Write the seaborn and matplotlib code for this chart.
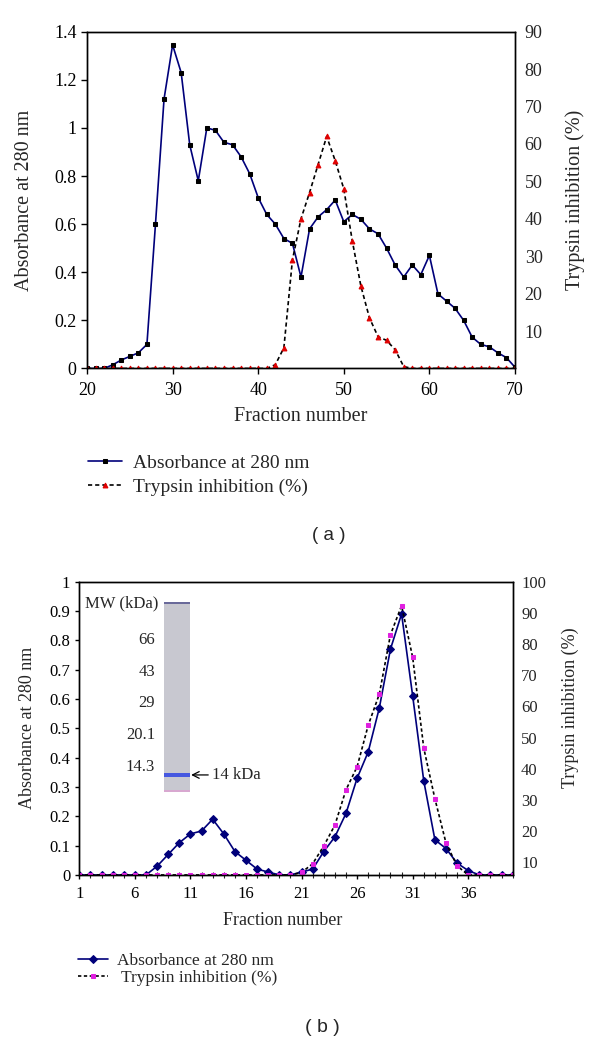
import matplotlib
matplotlib.use("Agg")
import matplotlib.pyplot as plt
from matplotlib.patches import Rectangle
import seaborn as sns

# panel (a): fractions 20..70
frac_a = list(range(20, 71))
abs_a = [0, 0, 0, 0.015, 0.035, 0.05, 0.065, 0.10, 0.60, 1.12,
         1.345, 1.23, 0.93, 0.78, 1.00, 0.99, 0.94, 0.93, 0.88, 0.81,
         0.71, 0.64, 0.60, 0.54, 0.52, 0.38, 0.58, 0.63, 0.66, 0.70,
         0.61, 0.64, 0.62, 0.58, 0.56, 0.50, 0.43, 0.38, 0.43, 0.39,
         0.47, 0.31, 0.28, 0.25, 0.20, 0.13, 0.10, 0.09, 0.065, 0.045,
         0.005]
tryp_a = [0, 0, 0, 0, 0, 0, 0, 0, 0, 0,
          0, 0, 0, 0, 0, 0, 0, 0, 0, 0,
          0, 0, 1, 5.5, 29, 40, 47, 54.5, 62, 55.5,
          48, 34, 22, 13.5, 8.5, 7.5, 5, 0.5, 0, 0,
          0, 0, 0, 0, 0, 0, 0, 0, 0, 0,
          0]

# panel (b): fractions 1..40
frac_b = list(range(1, 41))
abs_b = [0, 0, 0, 0, 0, 0, 0, 0.03, 0.07, 0.11,
         0.14, 0.15, 0.19, 0.14, 0.08, 0.05, 0.02, 0.01, 0, 0,
         0.01, 0.02, 0.08, 0.13, 0.21, 0.33, 0.42, 0.57, 0.77, 0.89,
         0.61, 0.32, 0.12, 0.09, 0.04, 0.015, 0, 0, 0, 0]
tryp_b = [6, 6, 6, 6, 6, 6, 6, 6, 6, 6,
          6, 6, 6, 6, 6, 6, 6, 6, 6, 6,
          6.8, 9.6, 15.3, 22, 33.3, 40.7, 54, 64, 83, 92.3,
          75.7, 46.6, 30.4, 16.2, 8.9, 6, 6, 6, 6, 6]

gel_labels = ["66", "43", "29", "20.1", "14.3"]

sns.set_theme(style="white")
plt.rcParams['font.family'] = ['Liberation Serif', 'DejaVu Serif']
plt.rcParams['axes.edgecolor'] = 'black'
plt.rcParams['axes.linewidth'] = 1.0

NAVY = '#00007a'
fig = plt.figure(figsize=(6, 10.42), dpi=100)

# ---------- panel a ----------
ax = fig.add_axes([0.145, 0.6464, 0.7133, 0.3232])
sns.lineplot(x=frac_a, y=abs_a, ax=ax, color=NAVY, lw=1.2, marker='s', markersize=3,
             markerfacecolor='black', markeredgecolor='black', label='Absorbance at 280 nm', legend=False)
ax2 = ax.twinx()
sns.lineplot(x=frac_a, y=tryp_a, ax=ax2, color='black', lw=1.2, linestyle=(0, (2.5, 1.8)), marker='^',
             markersize=3.5, markerfacecolor='#e00000', markeredgecolor='#e00000',
             label='Trypsin inhibition (%)', legend=False)
ax.set_xlim(20, 70)
ax.set_ylim(0, 1.4)
ax2.set_ylim(0, 90)
ax.set_xticks(range(20, 71, 10))
ax.set_yticks([0, 0.2, 0.4, 0.6, 0.8, 1.0, 1.2, 1.4])
ax.set_yticklabels(["0", "0.2", "0.4", "0.6", "0.8", "1", "1.2", "1.4"])
ax2.set_yticks(range(10, 91, 10))
ax.tick_params(axis='both', direction='out', length=4, width=1, labelsize=13, left=True, bottom=True, colors='black')
ax.tick_params(axis='x', pad=6)
ax2.tick_params(axis='y', length=0, labelsize=13, pad=7)
ax.set_xlabel('Fraction number', fontsize=14.5)
ax.set_ylabel('Absorbance at 280 nm', fontsize=14.5)
ax2.set_ylabel('Trypsin inhibition (%)', fontsize=14.5)
ax.xaxis.set_label_coords(0.5, -0.115)
ax.yaxis.set_label_coords(-0.124, 0.5)
ax2.yaxis.set_label_coords(1.118, 0.5)
ax.grid(False)
ax2.grid(False)

h1, l1 = ax.get_legend_handles_labels()
h2, l2 = ax2.get_legend_handles_labels()
fig.legend(h1 + h2, l1 + l2, loc='upper left', bbox_to_anchor=(88 / 600, 1 - 454 / 1042),
           frameon=False, fontsize=14, handlelength=1.75, handletextpad=0.57, labelspacing=0.35,
           borderpad=0, borderaxespad=0)
fig.text(329 / 600, 1 - 535 / 1042, '( a )', ha='center', va='center', fontsize=13.5,
         family=['Liberation Sans', 'DejaVu Sans'])

# ---------- panel b ----------
bx = fig.add_axes([0.1322, 0.1603, 0.7223, 0.2815])
sns.lineplot(x=frac_b, y=abs_b, ax=bx, color=NAVY, lw=1.2, marker='D', markersize=4.5,
             markerfacecolor=NAVY, markeredgecolor=NAVY, label='Absorbance at 280 nm', legend=False)
bx2 = bx.twinx()
sns.lineplot(x=frac_b, y=tryp_b, ax=bx2, color='black', lw=1.2, linestyle=(0, (2, 1.5)), marker='s',
             markersize=3.5, markerfacecolor='#e020e0', markeredgecolor='#e020e0',
             label=' Trypsin inhibition (%)', legend=False)
bx.set_xlim(1, 40)
bx.set_ylim(0, 1)
bx2.set_ylim(6, 100)
bx.set_xticks(range(1, 40, 5))
bx.set_xticks(range(1, 41), minor=True)
bx.set_yticks([i / 10 for i in range(11)])
bx.set_yticklabels(["0", "0.1", "0.2", "0.3", "0.4", "0.5", "0.6", "0.7", "0.8", "0.9", "1"])
bx2.set_yticks(range(10, 101, 10))
bx.tick_params(axis='both', which='major', direction='out', length=3, width=1, labelsize=12,
               left=True, bottom=True, colors='black')
bx.tick_params(axis='x', which='major', pad=5)
bx.tick_params(axis='x', which='minor', direction='inout', length=4, width=0.8, bottom=True)
bx2.tick_params(axis='y', length=0, labelsize=12, pad=6)
bx.set_xlabel('Fraction number', fontsize=13)
bx.set_ylabel('Absorbance at 280 nm', fontsize=13)
bx2.set_ylabel('Trypsin inhibition (%)', fontsize=13)
bx.xaxis.set_label_coords(0.47, -0.125)
bx.yaxis.set_label_coords(-0.1, 0.5)
bx2.yaxis.set_label_coords(1.112, 0.57)
bx.grid(False)
bx2.grid(False)

# gel inset
bx2.add_patch(Rectangle((0.196, 0.282), 0.059, 0.646, transform=bx.transAxes,
                        facecolor='#c8c8d0', edgecolor='none', zorder=3))
bx2.add_patch(Rectangle((0.196, 0.924), 0.059, 0.005, transform=bx.transAxes,
                        facecolor='#6a6a9a', edgecolor='none', zorder=4))
bx2.add_patch(Rectangle((0.196, 0.282), 0.059, 0.006, transform=bx.transAxes,
                        facecolor='#d8a8d0', edgecolor='none', zorder=4))
bx2.add_patch(Rectangle((0.196, 0.335), 0.059, 0.013, transform=bx.transAxes,
                        facecolor='#4658e0', edgecolor='none', zorder=4))
bx2.text(0.013, 0.925, 'MW (kDa)', transform=bx.transAxes, ha='left', va='center', fontsize=12, zorder=5)
for lab, yy in zip(gel_labels, [0.801, 0.693, 0.585, 0.477, 0.369]):
    bx2.text(0.175, yy, lab, transform=bx.transAxes, ha='right', va='center', fontsize=12, zorder=5)
bx2.annotate('14 kDa', xy=(0.258, 0.341), xytext=(0.305, 0.341), xycoords='axes fraction',
             textcoords='axes fraction', ha='left', va='center', fontsize=12, zorder=5,
             arrowprops=dict(arrowstyle='->', color='black', lw=0.9, shrinkA=0, shrinkB=0))

h1, l1 = bx.get_legend_handles_labels()
h2, l2 = bx2.get_legend_handles_labels()
fig.legend(h1 + h2, l1 + l2, loc='upper left', bbox_to_anchor=(78 / 600, 1 - 953 / 1042),
           frameon=False, fontsize=12.5, handlelength=1.75, handletextpad=0.5, labelspacing=0.05,
           borderpad=0, borderaxespad=0)
fig.text(322 / 600, 1 - 1027 / 1042, '( b )', ha='center', va='center', fontsize=14,
         family=['Liberation Sans', 'DejaVu Sans'])

fig.savefig('out.png', dpi=100)
